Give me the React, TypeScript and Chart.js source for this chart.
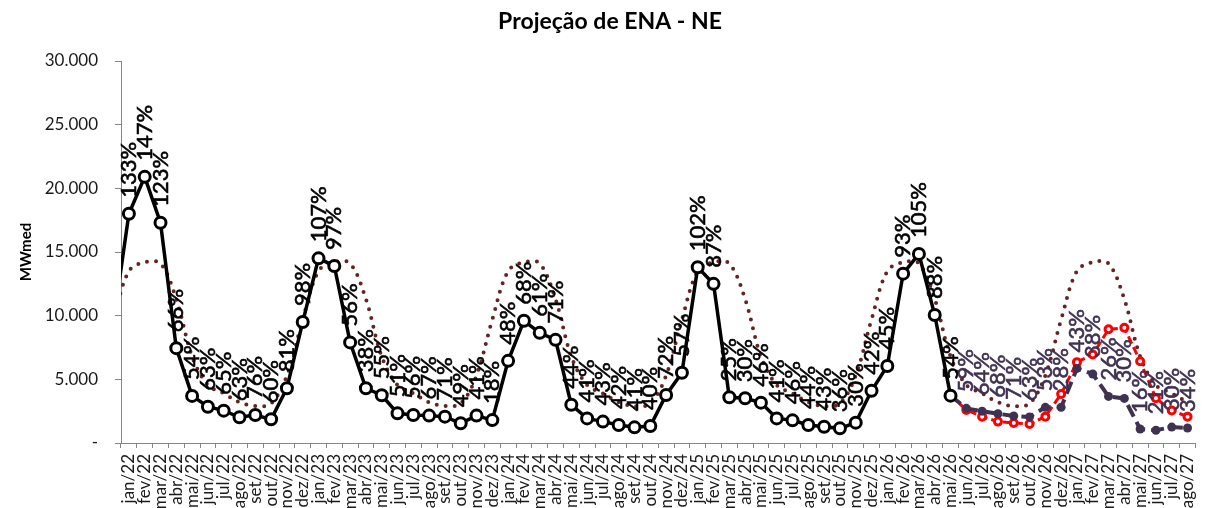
import React, { useEffect, useRef } from 'react';
import { Chart, registerables } from 'chart.js';

Chart.register(...registerables);

// Categories (dez/21 is only used so the lines enter from the left edge, it is hidden by the axis min)
const categories: string[] = [
  'dez/21',
  'jan/22', 'fev/22', 'mar/22', 'abr/22', 'mai/22', 'jun/22', 'jul/22', 'ago/22', 'set/22', 'out/22', 'nov/22', 'dez/22',
  'jan/23', 'fev/23', 'mar/23', 'abr/23', 'mai/23', 'jun/23', 'jul/23', 'ago/23', 'set/23', 'out/23', 'nov/23', 'dez/23',
  'jan/24', 'fev/24', 'mar/24', 'abr/24', 'mai/24', 'jun/24', 'jul/24', 'ago/24', 'set/24', 'out/24', 'nov/24', 'dez/24',
  'jan/25', 'fev/25', 'mar/25', 'abr/25', 'mai/25', 'jun/25', 'jul/25', 'ago/25', 'set/25', 'out/25', 'nov/25', 'dez/25',
  'jan/26', 'fev/26', 'mar/26', 'abr/26', 'mai/26', 'jun/26', 'jul/26', 'ago/26', 'set/26', 'out/26', 'nov/26', 'dez/26',
  'jan/27', 'fev/27', 'mar/27', 'abr/27', 'mai/27', 'jun/27', 'jul/27', 'ago/27',
];

// Long-term average (MLT) by month
const mltMonths: string[] = ['jan', 'fev', 'mar', 'abr', 'mai', 'jun', 'jul', 'ago', 'set', 'out', 'nov', 'dez'];
const mltValues: number[] = [13500, 14200, 14100, 11300, 6800, 4550, 3900, 3200, 2900, 3100, 5300, 9700];

// Verified ENA (dez/21 .. mai/26)
const enaVerificada: number[] = [
  9300,
  18000, 20900, 17300, 7450, 3700, 2850, 2540, 2020, 2200, 1860, 4300, 9500,
  14500, 13900, 7900, 4300, 3750, 2330, 2200, 2150, 2070, 1550, 2150, 1800,
  6450, 9600, 8650, 8100, 3000, 1930, 1680, 1410, 1230, 1330, 3770, 5520,
  13800, 12500, 3590, 3510, 3170, 1930, 1780, 1410, 1280, 1150, 1600, 4100,
  6050, 13300, 14850, 10050, 3720,
];
const enaVerificadaPct: (string | null)[] = [
  null,
  '133%', '147%', '123%', '66%', '54%', '63%', '65%', '63%', '76%', '60%', '81%', '98%',
  '107%', '97%', '56%', '38%', '55%', '51%', '56%', '67%', '71%', '49%', '41%', '18%',
  '48%', '68%', '61%', '71%', '44%', '41%', '43%', '42%', '41%', '40%', '72%', '57%',
  '102%', '87%', '25%', '30%', '46%', '41%', '46%', '44%', '43%', '36%', '30%', '42%',
  '45%', '93%', '105%', '88%', '54%',
];

// Projection (mai/26 .. ago/27)
const projStart = 'mai/26';
const projecao: number[] = [
  3720, 2720, 2500, 2300, 2120, 2050, 2800, 2800, 5860, 5420, 3660, 3500, 1100, 1000, 1250, 1180,
];
const projecaoPct: (string | null)[] = [
  null, '59%', '64%', '68%', '71%', '63%', '53%', '28%', '43%', '38%', '26%', '30%', '16%', '21%', '30%', '34%',
];

// Alternative projection (mai/26 .. ago/27)
const projecaoAlt: number[] = [
  3720, 2600, 2070, 1680, 1570, 1490, 2070, 3850, 6350, 6950, 8930, 9050, 6420, 3510, 2550, 2070,
];

const fmt = (v: number) => (v === 0 ? '-' : String(v).replace(/\B(?=(\d{3})+(?!\d))/g, '.'));

const padFrom = (start: string, arr: (number | string | null)[]) => {
  const idx = categories.indexOf(start);
  return categories.map((_, i) => (i >= idx && i - idx < arr.length ? arr[i - idx] : null));
};

const labelPlugin = {
  id: 'pctLabels',
  afterDatasetsDraw(chart: any, _args: any, opts: any) {
    const ctx = chart.ctx;
    const sets: { ds: number; labels: (string | null)[]; color: string }[] = opts.sets;
    ctx.save();
    const area = chart.chartArea;
    sets.forEach((s) => {
      const meta = chart.getDatasetMeta(s.ds);
      meta.data.forEach((pt: any, i: number) => {
        const txt = s.labels[i];
        if (!txt || pt.x < area.left) return;
        ctx.save();
        ctx.translate(pt.x, pt.y - 16);
        ctx.rotate(-Math.PI / 2);
        ctx.textAlign = 'left';
        ctx.textBaseline = 'middle';
        ctx.fillStyle = s.color;
        ctx.strokeStyle = s.color;
        ctx.lineWidth = 0.6;
        ctx.font = '22px Lato';
        ctx.fillText(txt, 0, 0);
        ctx.strokeText(txt, 0, 0);
        ctx.restore();
      });
    });
    ctx.restore();
  },
};

export default function App() {
  const ref = useRef<HTMLCanvasElement | null>(null);
  useEffect(() => {
    if (!ref.current) return;
    const mlt = categories.map((c) => mltValues[mltMonths.indexOf(c.split('/')[0])]);
    const black = padFrom('dez/21', enaVerificada);
    const blackPct = padFrom('dez/21', enaVerificadaPct);
    const purple = padFrom(projStart, projecao);
    const purplePct = padFrom(projStart, projecaoPct);
    const red = padFrom(projStart, projecaoAlt);

    const chart = new Chart(ref.current, {
      type: 'line',
      data: {
        labels: categories,
        datasets: [
          {
            label: 'ENA verificada',
            data: black as any,
            borderColor: '#000000',
            borderWidth: 3.5,
            pointRadius: (c: any) => (c.dataIndex === 0 ? 0 : 5.5),
            pointBorderWidth: 3,
            pointBackgroundColor: '#ffffff',
            pointBorderColor: '#000000',
            tension: 0,
            order: 0,
            clip: 0,
          },
          {
            label: 'Projeção',
            data: purple as any,
            borderColor: '#3F3151',
            borderWidth: 4,
            borderDash: [13, 6],
            pointRadius: 4.5,
            pointBorderWidth: 0,
            pointBackgroundColor: '#3F3151',
            pointBorderColor: '#3F3151',
            tension: 0,
            order: 1,
          },
          {
            label: 'Projeção 2',
            data: red as any,
            borderColor: '#FF0000',
            borderWidth: 3,
            borderDash: [8, 4],
            pointRadius: 3.5,
            pointBorderWidth: 3,
            pointBackgroundColor: '#ffffff',
            pointBorderColor: '#FF0000',
            tension: 0,
            order: 2,
          },
          {
            label: 'MLT',
            data: mlt,
            borderColor: '#632523',
            borderWidth: 4,
            borderDash: [0, 9],
            borderCapStyle: 'round',
            pointRadius: 0,
            tension: 0.35,
            order: 3,
            clip: 0,
          },
        ],
      },
      options: {
        animation: false,
        responsive: true,
        maintainAspectRatio: false,
        layout: { padding: { top: 61, right: 5, left: 0, bottom: 0 } },
        plugins: {
          legend: { display: false },
          tooltip: { enabled: false },
          title: { display: false },
          pctLabels: {
            sets: [
              { ds: 0, labels: blackPct, color: '#000000' },
              { ds: 1, labels: purplePct, color: '#3F3151' },
            ],
          },
        } as any,
        scales: {
          x: {
            type: 'category',
            min: 'jan/22',
            max: 'ago/27',
            offset: true,
            grid: {
              display: true,
              drawOnChartArea: false,
              drawTicks: true,
              tickLength: 5,
              offset: true,
              color: '#868686',
            },
            border: { display: true, color: '#868686', width: 1 },
            ticks: {
              autoSkip: false,
              minRotation: 90,
              maxRotation: 90,
              padding: 6,
              color: '#1a1a1a',
              font: { family: 'Lato', size: 17 },
            },
            afterFit: (s: any) => {
              s.height = 65;
            },
          },
          y: {
            min: 0,
            max: 30000,
            grid: {
              display: true,
              drawOnChartArea: false,
              drawTicks: true,
              tickLength: 6,
              color: '#868686',
            },
            border: { display: true, color: '#868686', width: 1 },
            ticks: {
              stepSize: 5000,
              padding: 17,
              color: '#1a1a1a',
              font: { family: 'Lato', size: 17 },
              callback: (v: any) => fmt(Number(v)),
            },
            title: {
              display: true,
              text: 'MWmed',
              color: '#000000',
              font: { family: 'Lato', size: 15, weight: 'bold' },
              padding: { top: 17, bottom: 0 },
            },
            afterFit: (s: any) => {
              s.width = 121;
            },
          },
        },
      },
      plugins: [
        labelPlugin,
        {
          id: 'topTitle',
          afterDraw(c: any) {
            const ctx = c.ctx;
            ctx.save();
            ctx.font = 'bold 23px Lato';
            ctx.fillStyle = '#000000';
            ctx.textAlign = 'center';
            ctx.textBaseline = 'middle';
            ctx.fillText('Projeção de ENA - NE', 610, 22);
            ctx.restore();
          },
        },
      ],
    } as any);
    return () => chart.destroy();
  }, []);

  return (
    <div style={{ position: 'fixed', left: 0, top: 0, width: 1214, height: 508, background: '#fff' }}>
      <canvas ref={ref} />
    </div>
  );
}
